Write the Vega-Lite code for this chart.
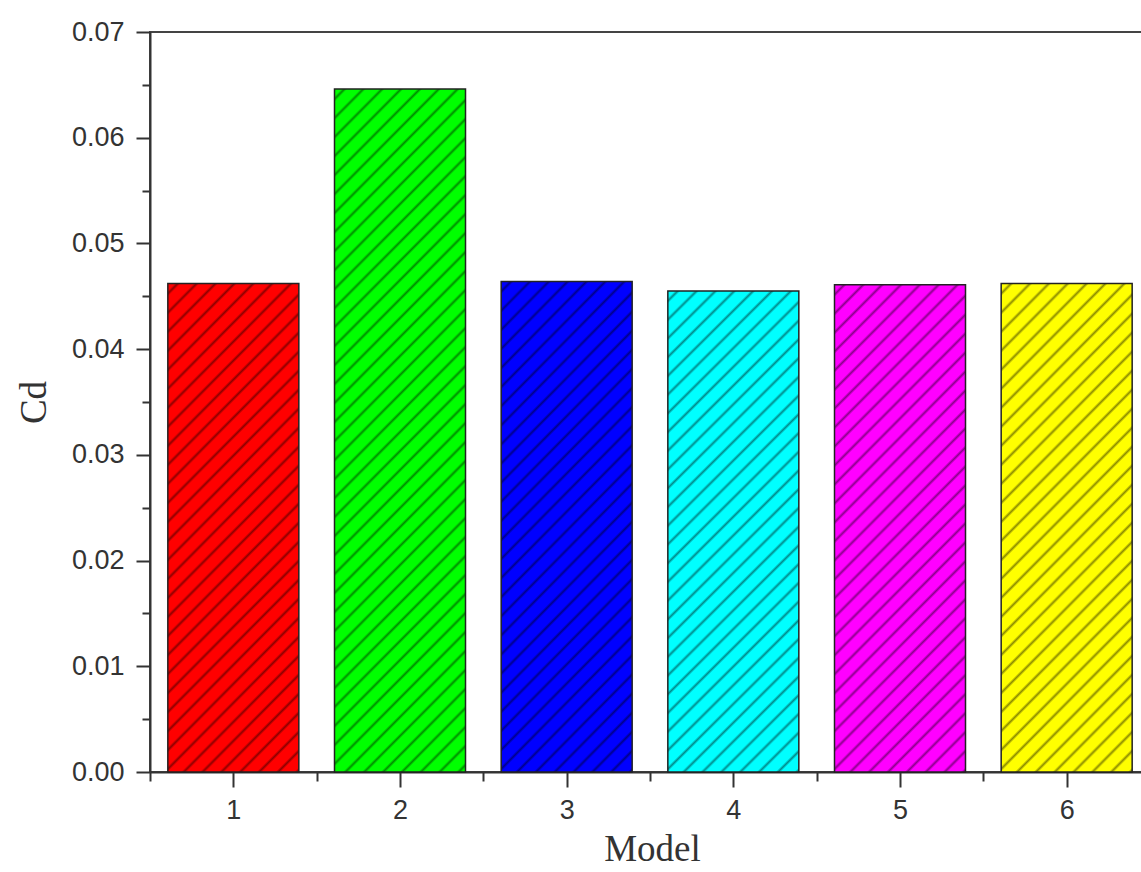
{
  "$schema": "https://vega.github.io/schema/vega-lite/v6.json",
  "width": 993,
  "height": 740,
  "autosize": {"type": "none"},
  "padding": {"left": 150, "top": 32, "right": 0, "bottom": 100},
  "background": "white",
  "config": {
    "view": {"stroke": "#444", "strokeWidth": 2},
    "axis": {
      "domainColor": "#333", "domainWidth": 2,
      "tickColor": "#333", "tickWidth": 2,
      "labelFont": "Liberation Sans", "labelFontSize": 27, "labelColor": "#333",
      "titleFont": "Liberation Serif", "titleFontSize": 37, "titleFontWeight": "normal", "titleColor": "#333",
      "grid": false
    }
  },
  "data": {
    "values": [
      {"Model": 1, "Cd": 0.0462},
      {"Model": 2, "Cd": 0.0646},
      {"Model": 3, "Cd": 0.0464},
      {"Model": 4, "Cd": 0.0455},
      {"Model": 5, "Cd": 0.0461},
      {"Model": 6, "Cd": 0.0462}
    ]
  },
  "encoding": {
    "x": {
      "field": "Model", "type": "quantitative",
      "scale": {"domain": [0.5, 6.458], "nice": false, "zero": false, "padding": 0},
      "axis": {
        "title": "Model",
        "values": [0.5, 1, 1.5, 2, 2.5, 3, 3.5, 4, 4.5, 5, 5.5, 6],
        "labelExpr": "datum.value % 1 == 0 ? datum.value : ''",
        "tickSize": {"condition": {"test": "datum.value % 1 == 0", "value": 15}, "value": 9},
        "labelPadding": 10,
        "titlePadding": 8,
        "titleX": 502
      }
    },
    "y": {
      "field": "Cd", "type": "quantitative",
      "scale": {"domain": [0, 0.07], "nice": false},
      "axis": {
        "title": "Cd",
        "values": [0, 0.005, 0.01, 0.015, 0.02, 0.025, 0.03, 0.035, 0.04, 0.045, 0.05, 0.055, 0.06, 0.065, 0.07],
        "labelExpr": "round(datum.value * 200) % 2 == 0 ? format(datum.value, '.2f') : ''",
        "tickSize": {"condition": {"test": "round(datum.value * 200) % 2 == 0", "value": 14}, "value": 8},
        "labelPadding": 12,
        "titlePadding": 18
      }
    }
  },
  "layer": [
    {
      "mark": {"type": "bar", "orient": "vertical", "size": 131, "strokeWidth": 0},
      "encoding": {
        "fill": {
          "field": "Model", "type": "nominal", "legend": null,
          "scale": {"domain": [1, 2, 3, 4, 5, 6], "range": ["#ff0000", "#00ff00", "#0000ff", "#00ffff", "#ff00ff", "#ffff00"]}
        }
      }
    },
    {
      "transform": [{"filter": "datum.Model != 2"}],
      "mark": {
        "type": "bar", "orient": "vertical", "size": 131, "stroke": "#222", "strokeWidth": 1.5,
        "fill": {
          "gradient": "linear", "x1": 0, "y1": 0, "x2": 0.5165, "y2": 1.9095,
          "stops": [
            {"offset": 0.007, "color": "transparent"}, {"offset": 0.010, "color": "rgba(0,0,0,0.45)"}, {"offset": 0.013, "color": "transparent"},
            {"offset": 0.026, "color": "transparent"}, {"offset": 0.029, "color": "rgba(0,0,0,0.45)"}, {"offset": 0.032, "color": "transparent"},
            {"offset": 0.045, "color": "transparent"}, {"offset": 0.048, "color": "rgba(0,0,0,0.45)"}, {"offset": 0.051, "color": "transparent"},
            {"offset": 0.064, "color": "transparent"}, {"offset": 0.067, "color": "rgba(0,0,0,0.45)"}, {"offset": 0.070, "color": "transparent"},
            {"offset": 0.083, "color": "transparent"}, {"offset": 0.086, "color": "rgba(0,0,0,0.45)"}, {"offset": 0.089, "color": "transparent"},
            {"offset": 0.102, "color": "transparent"}, {"offset": 0.105, "color": "rgba(0,0,0,0.45)"}, {"offset": 0.108, "color": "transparent"},
            {"offset": 0.121, "color": "transparent"}, {"offset": 0.124, "color": "rgba(0,0,0,0.45)"}, {"offset": 0.127, "color": "transparent"},
            {"offset": 0.140, "color": "transparent"}, {"offset": 0.143, "color": "rgba(0,0,0,0.45)"}, {"offset": 0.146, "color": "transparent"},
            {"offset": 0.159, "color": "transparent"}, {"offset": 0.162, "color": "rgba(0,0,0,0.45)"}, {"offset": 0.165, "color": "transparent"},
            {"offset": 0.178, "color": "transparent"}, {"offset": 0.181, "color": "rgba(0,0,0,0.45)"}, {"offset": 0.184, "color": "transparent"},
            {"offset": 0.197, "color": "transparent"}, {"offset": 0.200, "color": "rgba(0,0,0,0.45)"}, {"offset": 0.203, "color": "transparent"},
            {"offset": 0.216, "color": "transparent"}, {"offset": 0.219, "color": "rgba(0,0,0,0.45)"}, {"offset": 0.222, "color": "transparent"},
            {"offset": 0.235, "color": "transparent"}, {"offset": 0.238, "color": "rgba(0,0,0,0.45)"}, {"offset": 0.241, "color": "transparent"},
            {"offset": 0.254, "color": "transparent"}, {"offset": 0.257, "color": "rgba(0,0,0,0.45)"}, {"offset": 0.260, "color": "transparent"},
            {"offset": 0.273, "color": "transparent"}, {"offset": 0.276, "color": "rgba(0,0,0,0.45)"}, {"offset": 0.279, "color": "transparent"},
            {"offset": 0.292, "color": "transparent"}, {"offset": 0.295, "color": "rgba(0,0,0,0.45)"}, {"offset": 0.298, "color": "transparent"},
            {"offset": 0.311, "color": "transparent"}, {"offset": 0.314, "color": "rgba(0,0,0,0.45)"}, {"offset": 0.317, "color": "transparent"},
            {"offset": 0.330, "color": "transparent"}, {"offset": 0.333, "color": "rgba(0,0,0,0.45)"}, {"offset": 0.336, "color": "transparent"},
            {"offset": 0.349, "color": "transparent"}, {"offset": 0.352, "color": "rgba(0,0,0,0.45)"}, {"offset": 0.355, "color": "transparent"},
            {"offset": 0.368, "color": "transparent"}, {"offset": 0.371, "color": "rgba(0,0,0,0.45)"}, {"offset": 0.374, "color": "transparent"},
            {"offset": 0.387, "color": "transparent"}, {"offset": 0.390, "color": "rgba(0,0,0,0.45)"}, {"offset": 0.393, "color": "transparent"},
            {"offset": 0.406, "color": "transparent"}, {"offset": 0.409, "color": "rgba(0,0,0,0.45)"}, {"offset": 0.412, "color": "transparent"},
            {"offset": 0.425, "color": "transparent"}, {"offset": 0.428, "color": "rgba(0,0,0,0.45)"}, {"offset": 0.431, "color": "transparent"},
            {"offset": 0.444, "color": "transparent"}, {"offset": 0.447, "color": "rgba(0,0,0,0.45)"}, {"offset": 0.450, "color": "transparent"},
            {"offset": 0.463, "color": "transparent"}, {"offset": 0.466, "color": "rgba(0,0,0,0.45)"}, {"offset": 0.469, "color": "transparent"},
            {"offset": 0.482, "color": "transparent"}, {"offset": 0.485, "color": "rgba(0,0,0,0.45)"}, {"offset": 0.488, "color": "transparent"},
            {"offset": 0.501, "color": "transparent"}, {"offset": 0.504, "color": "rgba(0,0,0,0.45)"}, {"offset": 0.507, "color": "transparent"},
            {"offset": 0.520, "color": "transparent"}, {"offset": 0.523, "color": "rgba(0,0,0,0.45)"}, {"offset": 0.526, "color": "transparent"},
            {"offset": 0.539, "color": "transparent"}, {"offset": 0.542, "color": "rgba(0,0,0,0.45)"}, {"offset": 0.545, "color": "transparent"},
            {"offset": 0.558, "color": "transparent"}, {"offset": 0.561, "color": "rgba(0,0,0,0.45)"}, {"offset": 0.564, "color": "transparent"},
            {"offset": 0.577, "color": "transparent"}, {"offset": 0.580, "color": "rgba(0,0,0,0.45)"}, {"offset": 0.583, "color": "transparent"},
            {"offset": 0.596, "color": "transparent"}, {"offset": 0.599, "color": "rgba(0,0,0,0.45)"}, {"offset": 0.602, "color": "transparent"},
            {"offset": 0.615, "color": "transparent"}, {"offset": 0.618, "color": "rgba(0,0,0,0.45)"}, {"offset": 0.621, "color": "transparent"},
            {"offset": 0.634, "color": "transparent"}, {"offset": 0.637, "color": "rgba(0,0,0,0.45)"}, {"offset": 0.640, "color": "transparent"}
          ]
        }
      }
    },
    {
      "transform": [{"filter": "datum.Model == 2"}],
      "mark": {
        "type": "bar", "orient": "vertical", "size": 131, "stroke": "#222", "strokeWidth": 1.5,
        "fill": {
          "gradient": "linear", "x1": 0, "y1": 0, "x2": 0.2728, "y2": 1.4114,
          "stops": [
            {"offset": 0.007, "color": "transparent"}, {"offset": 0.010, "color": "rgba(0,0,0,0.45)"}, {"offset": 0.013, "color": "transparent"},
            {"offset": 0.026, "color": "transparent"}, {"offset": 0.029, "color": "rgba(0,0,0,0.45)"}, {"offset": 0.032, "color": "transparent"},
            {"offset": 0.045, "color": "transparent"}, {"offset": 0.048, "color": "rgba(0,0,0,0.45)"}, {"offset": 0.051, "color": "transparent"},
            {"offset": 0.064, "color": "transparent"}, {"offset": 0.067, "color": "rgba(0,0,0,0.45)"}, {"offset": 0.070, "color": "transparent"},
            {"offset": 0.083, "color": "transparent"}, {"offset": 0.086, "color": "rgba(0,0,0,0.45)"}, {"offset": 0.089, "color": "transparent"},
            {"offset": 0.102, "color": "transparent"}, {"offset": 0.105, "color": "rgba(0,0,0,0.45)"}, {"offset": 0.108, "color": "transparent"},
            {"offset": 0.121, "color": "transparent"}, {"offset": 0.124, "color": "rgba(0,0,0,0.45)"}, {"offset": 0.127, "color": "transparent"},
            {"offset": 0.140, "color": "transparent"}, {"offset": 0.143, "color": "rgba(0,0,0,0.45)"}, {"offset": 0.146, "color": "transparent"},
            {"offset": 0.159, "color": "transparent"}, {"offset": 0.162, "color": "rgba(0,0,0,0.45)"}, {"offset": 0.165, "color": "transparent"},
            {"offset": 0.178, "color": "transparent"}, {"offset": 0.181, "color": "rgba(0,0,0,0.45)"}, {"offset": 0.184, "color": "transparent"},
            {"offset": 0.197, "color": "transparent"}, {"offset": 0.200, "color": "rgba(0,0,0,0.45)"}, {"offset": 0.203, "color": "transparent"},
            {"offset": 0.216, "color": "transparent"}, {"offset": 0.219, "color": "rgba(0,0,0,0.45)"}, {"offset": 0.222, "color": "transparent"},
            {"offset": 0.235, "color": "transparent"}, {"offset": 0.238, "color": "rgba(0,0,0,0.45)"}, {"offset": 0.241, "color": "transparent"},
            {"offset": 0.254, "color": "transparent"}, {"offset": 0.257, "color": "rgba(0,0,0,0.45)"}, {"offset": 0.260, "color": "transparent"},
            {"offset": 0.273, "color": "transparent"}, {"offset": 0.276, "color": "rgba(0,0,0,0.45)"}, {"offset": 0.279, "color": "transparent"},
            {"offset": 0.292, "color": "transparent"}, {"offset": 0.295, "color": "rgba(0,0,0,0.45)"}, {"offset": 0.298, "color": "transparent"},
            {"offset": 0.311, "color": "transparent"}, {"offset": 0.314, "color": "rgba(0,0,0,0.45)"}, {"offset": 0.317, "color": "transparent"},
            {"offset": 0.330, "color": "transparent"}, {"offset": 0.333, "color": "rgba(0,0,0,0.45)"}, {"offset": 0.336, "color": "transparent"},
            {"offset": 0.349, "color": "transparent"}, {"offset": 0.352, "color": "rgba(0,0,0,0.45)"}, {"offset": 0.355, "color": "transparent"},
            {"offset": 0.368, "color": "transparent"}, {"offset": 0.371, "color": "rgba(0,0,0,0.45)"}, {"offset": 0.374, "color": "transparent"},
            {"offset": 0.387, "color": "transparent"}, {"offset": 0.390, "color": "rgba(0,0,0,0.45)"}, {"offset": 0.393, "color": "transparent"},
            {"offset": 0.406, "color": "transparent"}, {"offset": 0.409, "color": "rgba(0,0,0,0.45)"}, {"offset": 0.412, "color": "transparent"},
            {"offset": 0.425, "color": "transparent"}, {"offset": 0.428, "color": "rgba(0,0,0,0.45)"}, {"offset": 0.431, "color": "transparent"},
            {"offset": 0.444, "color": "transparent"}, {"offset": 0.447, "color": "rgba(0,0,0,0.45)"}, {"offset": 0.450, "color": "transparent"},
            {"offset": 0.463, "color": "transparent"}, {"offset": 0.466, "color": "rgba(0,0,0,0.45)"}, {"offset": 0.469, "color": "transparent"},
            {"offset": 0.482, "color": "transparent"}, {"offset": 0.485, "color": "rgba(0,0,0,0.45)"}, {"offset": 0.488, "color": "transparent"},
            {"offset": 0.501, "color": "transparent"}, {"offset": 0.504, "color": "rgba(0,0,0,0.45)"}, {"offset": 0.507, "color": "transparent"},
            {"offset": 0.520, "color": "transparent"}, {"offset": 0.523, "color": "rgba(0,0,0,0.45)"}, {"offset": 0.526, "color": "transparent"},
            {"offset": 0.539, "color": "transparent"}, {"offset": 0.542, "color": "rgba(0,0,0,0.45)"}, {"offset": 0.545, "color": "transparent"},
            {"offset": 0.558, "color": "transparent"}, {"offset": 0.561, "color": "rgba(0,0,0,0.45)"}, {"offset": 0.564, "color": "transparent"},
            {"offset": 0.577, "color": "transparent"}, {"offset": 0.580, "color": "rgba(0,0,0,0.45)"}, {"offset": 0.583, "color": "transparent"},
            {"offset": 0.596, "color": "transparent"}, {"offset": 0.599, "color": "rgba(0,0,0,0.45)"}, {"offset": 0.602, "color": "transparent"},
            {"offset": 0.615, "color": "transparent"}, {"offset": 0.618, "color": "rgba(0,0,0,0.45)"}, {"offset": 0.621, "color": "transparent"},
            {"offset": 0.634, "color": "transparent"}, {"offset": 0.637, "color": "rgba(0,0,0,0.45)"}, {"offset": 0.640, "color": "transparent"},
            {"offset": 0.653, "color": "transparent"}, {"offset": 0.656, "color": "rgba(0,0,0,0.45)"}, {"offset": 0.659, "color": "transparent"},
            {"offset": 0.672, "color": "transparent"}, {"offset": 0.675, "color": "rgba(0,0,0,0.45)"}, {"offset": 0.678, "color": "transparent"},
            {"offset": 0.691, "color": "transparent"}, {"offset": 0.694, "color": "rgba(0,0,0,0.45)"}, {"offset": 0.697, "color": "transparent"},
            {"offset": 0.710, "color": "transparent"}, {"offset": 0.713, "color": "rgba(0,0,0,0.45)"}, {"offset": 0.716, "color": "transparent"},
            {"offset": 0.729, "color": "transparent"}, {"offset": 0.732, "color": "rgba(0,0,0,0.45)"}, {"offset": 0.735, "color": "transparent"},
            {"offset": 0.748, "color": "transparent"}, {"offset": 0.751, "color": "rgba(0,0,0,0.45)"}, {"offset": 0.754, "color": "transparent"},
            {"offset": 0.767, "color": "transparent"}, {"offset": 0.770, "color": "rgba(0,0,0,0.45)"}, {"offset": 0.773, "color": "transparent"},
            {"offset": 0.786, "color": "transparent"}, {"offset": 0.789, "color": "rgba(0,0,0,0.45)"}, {"offset": 0.792, "color": "transparent"},
            {"offset": 0.805, "color": "transparent"}, {"offset": 0.808, "color": "rgba(0,0,0,0.45)"}, {"offset": 0.811, "color": "transparent"}
          ]
        }
      }
    }
  ]
}
